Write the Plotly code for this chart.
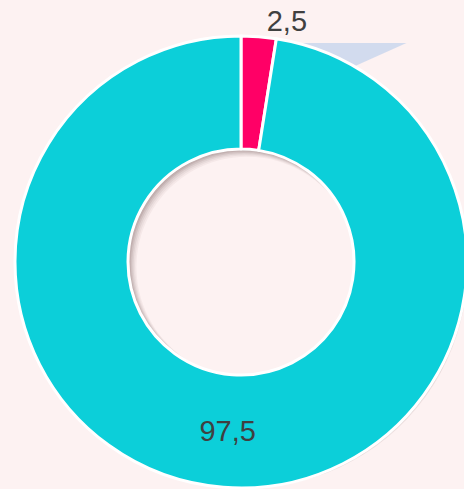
import plotly.graph_objects as go

labels = ["A", "B"]
values = [2.5, 97.5]
colors = ["#ff0066", "#0ccfd9"]

W, H = 482, 524
ml, mr, mt, mb = 0, 0, 0, 0
shift_y = 16  # page offset (px) applied through CSS
pw, ph = W - ml - mr, H - mt - mb

def px(x):
    return (x - ml) / pw

def py(y):
    return 1 - (y + shift_y - mt) / ph

fig = go.Figure()

# soft drop shadow layers
for dx, dy, op in [(12, 12, 0.05), (10, 10, 0.06), (8, 8, 0.08), (6, 6, 0.10), (4, 4, 0.12), (2, 2, 0.12)]:
    fig.add_trace(go.Pie(
        values=values, hole=0.5, sort=False, direction="clockwise", rotation=0,
        marker=dict(colors=["rgba(90,60,60,%.2f)" % op] * 2, line=dict(width=0)),
        textinfo="none", hoverinfo="skip", showlegend=False,
        domain=dict(x=[dx / pw, 1], y=[0, 1 - dy / ph]),
    ))

fig.add_trace(go.Pie(
    labels=labels, values=values, hole=0.5, sort=False,
    direction="clockwise", rotation=0,
    marker=dict(colors=colors, line=dict(color="white", width=3)),
    texttemplate="%{value:.1f}",
    textposition=["outside", "inside"],
    insidetextorientation="horizontal",
    textfont=dict(family="Liberation Sans, Arial, sans-serif", size=29, color="#404040"),
    showlegend=False,
    domain=dict(x=[0, 1], y=[0, 1]),
))

fig.update_layout(
    width=W, height=H,
    margin=dict(l=ml, r=mr, t=mt, b=mb),
    paper_bgcolor="#fdf2f2",
    plot_bgcolor="#fdf2f2",
    separators=", ",
    shapes=[dict(
        type="path", xref="paper", yref="paper", layer="below",
        path="M %.4f,%.4f L %.4f,%.4f L %.4f,%.4f Z" % (
            px(263), py(-8), px(410), py(-8), px(300), py(48)),
        fillcolor="rgba(175,200,235,0.55)", line=dict(width=0),
    )],
)

fig.write_html(
    "out.html",
    config={"displayModeBar": False},
    post_script=(
        "document.body.style.margin='-%dpx 0 0 0';" % shift_y
        + "document.body.style.overflow='hidden';"
        "document.documentElement.style.overflow='hidden';"
        "document.body.style.background='#fdf2f2';"
        "document.documentElement.style.background='#fdf2f2';"
    ),
)
